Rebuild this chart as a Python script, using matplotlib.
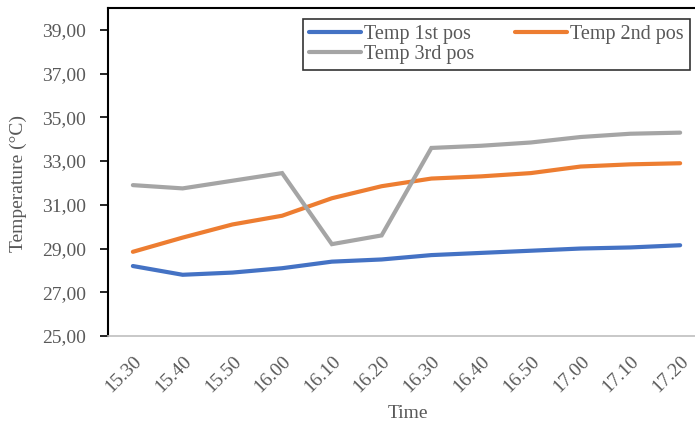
import matplotlib
matplotlib.use("Agg")
import matplotlib.pyplot as plt
from matplotlib.ticker import FixedLocator, FuncFormatter

times = ["15.30", "15.40", "15.50", "16.00", "16.10", "16.20", "16.30", "16.40", "16.50", "17.00", "17.10", "17.20"]
temp_1st = [28.2, 27.8, 27.9, 28.1, 28.4, 28.5, 28.7, 28.8, 28.9, 29.0, 29.05, 29.15]
temp_2nd = [28.85, 29.5, 30.1, 30.5, 31.3, 31.85, 32.2, 32.3, 32.45, 32.75, 32.85, 32.9]
temp_3rd = [31.9, 31.75, 32.1, 32.45, 29.2, 29.6, 33.6, 33.7, 33.85, 34.1, 34.25, 34.3]
series_names = ["Temp 1st pos", "Temp 2nd pos", "Temp 3rd pos"]
yticks = [25, 27, 29, 31, 33, 35, 37, 39]

plt.rcParams['font.family'] = ['Liberation Serif', 'DejaVu Serif']
txt = '#595959'

fig = plt.figure(figsize=(6.95, 4.25), dpi=100)
ax = fig.add_axes([108/695, 89/425, (705-108)/695, (417-89)/425])

x = list(range(len(times)))
colors = ['#4472C4', '#ED7D31', '#A5A5A5']
lines = []
for vals, name, c in zip([temp_1st, temp_2nd, temp_3rd], series_names, colors):
    ln, = ax.plot(x, vals, color=c, lw=3, label=name, solid_capstyle='round', solid_joinstyle='miter')
    lines.append(ln)

ax.set_xlim(-0.5, len(times) - 0.5)
ax.set_ylim(25, 40)
ax.yaxis.set_major_locator(FixedLocator(yticks))
ax.yaxis.set_major_formatter(FuncFormatter(lambda v, p: f"{v:.2f}".replace('.', ',')))
ax.set_xticks(x)
ax.set_xticklabels(times, rotation=45, ha='right', rotation_mode='anchor')

ax.tick_params(axis='y', direction='out', length=6, width=1.2, colors='black', labelcolor=txt, labelsize=14, pad=10)
ax.tick_params(axis='x', length=0, labelcolor=txt, labelsize=14, pad=12)

for s in ['top', 'left']:
    ax.spines[s].set_color('black')
    ax.spines[s].set_linewidth(1.5)
ax.spines['bottom'].set_color('#BFBFBF')
ax.spines['bottom'].set_linewidth(1.2)
ax.spines['right'].set_visible(False)

fig.text(408/695, 1 - 413/425, "Time", ha='center', va='center', color=txt, fontsize=14)
fig.text(18/695, 1 - 183/425, "Temperature (°C)", ha='center', va='center', rotation=90, color=txt, fontsize=14)

order = [0, 2, 1]
leg = ax.legend([lines[i] for i in order], [series_names[i] for i in order],
                loc='upper right', bbox_to_anchor=(690/695, 1 - 19/425), bbox_transform=fig.transFigure,
                ncol=2, frameon=True, fancybox=False, edgecolor='black', fontsize=14.5,
                handlelength=2.6, handletextpad=0.15, columnspacing=2.0, borderpad=0.3,
                labelspacing=0.05, borderaxespad=0)
leg.get_frame().set_linewidth(1.2)
for t in leg.get_texts():
    t.set_color(txt)

fig.savefig("out.png", dpi=100)
